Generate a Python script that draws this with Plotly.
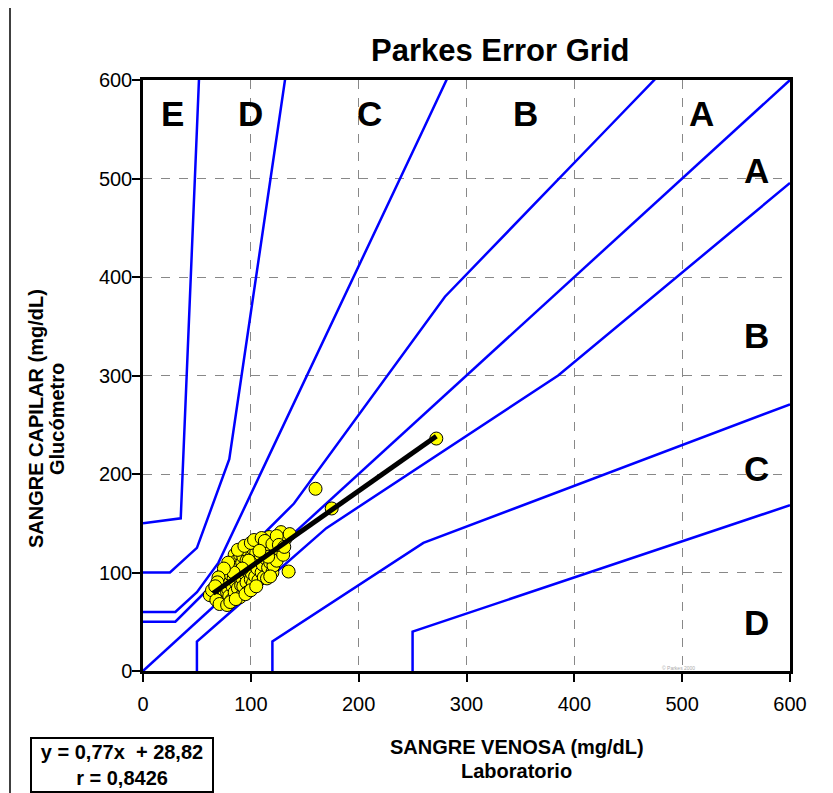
import plotly.graph_objects as go

# Parkes error grid boundaries (Type 1), extended along their last segment past the axis range
a_upper_x = [0, 30, 140, 280, 430, 480]
a_upper_y = [50, 50, 170, 380, 550, 606.7]
a_lower_x = [50, 50, 170, 385, 550, 600]
a_lower_y = [0, 30, 145, 300, 450, 495.5]
b_upper_x = [0, 30, 50, 70, 260, 290]
b_upper_y = [60, 60, 80, 110, 550, 620]
b_lower_x = [120, 120, 260, 550, 600]
b_lower_y = [0, 30, 130, 250, 270.7]
c_upper_x = [0, 25, 50, 80, 125, 135]
c_upper_y = [100, 100, 125, 215, 550, 625]
c_lower_x = [250, 250, 550, 600]
c_lower_y = [0, 40, 150, 168.3]
d_upper_x = [0, 35, 50, 52]
d_upper_y = [150, 155, 550, 603]
identity_x = [0, 600]
identity_y = [0, 600]

# Measurements: laboratory (venous) vs glucometer (capillary)
lab = [65, 66, 68, 70, 70, 72, 72, 73, 73, 74, 75, 75, 76, 76, 77, 78, 78, 79, 80, 80,
       80, 81, 82, 82, 83, 83, 84, 85, 85, 86, 86, 87, 88, 88, 89, 90, 90, 90, 91, 92,
       92, 93, 93, 94, 95, 95, 96, 96, 97, 98, 98, 99, 100, 100, 101, 102, 102, 103, 104, 104,
       105, 106, 107, 107, 108, 109, 110, 110, 111, 112, 113, 114, 115, 115, 116, 117, 118, 119, 120, 121,
       122, 124, 125, 127, 128, 130, 132, 135, 136, 118,
       62, 64, 68, 71, 78, 81, 86, 95, 100, 105, 88, 94, 100, 103, 110, 113, 120, 124, 126, 131,
       116, 108, 98, 92, 84, 79, 75, 70, 69, 67,
       160, 175, 272]
gluc = [76, 80, 78, 84, 74, 88, 80, 97, 86, 76, 92, 82, 100, 72, 88, 95, 80, 83, 104, 90,
        76, 98, 72, 104, 110, 86, 94, 118, 80, 102, 90, 112, 96, 84, 106, 75, 118, 100, 87, 110,
        94, 116, 86, 104, 122, 98, 90, 112, 80, 121, 106, 99, 115, 93, 99, 89, 124, 108, 114, 96,
        120, 104, 129, 92, 112, 118, 100, 126, 108, 95, 128, 114, 94, 120, 105, 136, 110, 124, 100, 107,
        117, 112, 130, 123, 141, 118, 134, 101, 139, 96,
        77, 82, 72, 68, 67, 70, 73, 78, 82, 86, 123, 127, 130, 133, 135, 132, 129, 137, 128, 126,
        116, 122, 112, 104, 100, 110, 104, 95, 90, 86,
        185, 165, 236]

# Regression y = 0.77x + 28.82
reg_slope = 0.77
reg_intercept = 28.82
reg_x = [65, 272]
reg_y = [reg_slope * v + reg_intercept for v in reg_x]

x_ticks = [0, 100, 200, 300, 400, 500, 600]
y_ticks = [0, 100, 200, 300, 400, 500, 600]

zone_labels = ["E", "D", "C", "B", "A", "A", "B", "C", "D"]
zone_x = [27, 100, 210, 355, 518, 569, 569, 569, 569]
zone_y = [566, 566, 566, 566, 566, 508, 341, 206, 49]

BLUE = "#0000FF"
FONT = "Liberation Sans, Arial, sans-serif"
OFF = 8  # page body margin

fig = go.Figure()
for xs, ys in [(d_upper_x, d_upper_y), (c_upper_x, c_upper_y), (b_upper_x, b_upper_y),
               (a_upper_x, a_upper_y), (identity_x, identity_y), (a_lower_x, a_lower_y),
               (b_lower_x, b_lower_y), (c_lower_x, c_lower_y)]:
    fig.add_trace(go.Scatter(x=xs, y=ys, mode="lines", line=dict(color=BLUE, width=2.5),
                             hoverinfo="skip", showlegend=False))

fig.add_trace(go.Scatter(x=lab, y=gluc, mode="markers",
                         marker=dict(size=13, color="#FFFF00", line=dict(color="#000000", width=1)),
                         showlegend=False, cliponaxis=False))
fig.add_trace(go.Scatter(x=reg_x, y=reg_y, mode="lines", line=dict(color="#000000", width=5),
                         showlegend=False))

for t, zx, zy in zip(zone_labels, zone_x, zone_y):
    fig.add_annotation(x=zx, y=zy, text="<b>%s</b>" % t, showarrow=False,
                       xanchor="center", yanchor="middle",
                       font=dict(size=35, color="#000000", family=FONT))

def px_to_paper_x(px):
    return (px - 143) / 647.0

def px_to_paper_y(py):
    return (671 - py) / 591.0

def label(text, px, py, size, angle=0):
    fig.add_annotation(xref="paper", yref="paper", x=px_to_paper_x(px), y=px_to_paper_y(py),
                       xanchor="center", yanchor="middle", text=text, showarrow=False,
                       textangle=angle, font=dict(size=size, color="#000000", family=FONT))

label("<b>Parkes Error Grid</b>", 500, 50, 31)
label("<b>SANGRE VENOSA (mg/dL)</b>", 517, 747, 20)
label("<b>Laboratorio</b>", 517, 771, 20)
label("<b>SANGRE CAPILAR (mg/dL)</b>", 36, 419, 20, -90)
label("<b>Glucómetro</b>", 57, 419, 20, -90)

# Regression box
fig.add_annotation(xref="paper", yref="paper", x=px_to_paper_x(122), y=px_to_paper_y(737),
                   xanchor="center", yanchor="top",
                   text="<b>y = 0,77x&nbsp; + 28,82</b><br><b>r = 0,8426</b>", showarrow=False,
                   align="center", bordercolor="#000000", borderwidth=2, borderpad=2,
                   bgcolor="#FFFFFF", width=176,
                   font=dict(size=20, color="#000000", family=FONT))
# Watermark
fig.add_annotation(x=497, y=3, text="© Parkes 2000", showarrow=False,
                   xanchor="center", yanchor="middle",
                   font=dict(size=5, color="#AAAAAA", family=FONT))
# Page border line on the left
fig.add_shape(type="line", xref="paper", yref="paper",
              x0=px_to_paper_x(10), x1=px_to_paper_x(10), y0=px_to_paper_y(0), y1=px_to_paper_y(800),
              line=dict(color="#000000", width=1.5))

axis_common = dict(range=[0, 600], showgrid=True, gridcolor="#888888", griddash="dash",
                   gridwidth=1, showline=True, linecolor="#000000", linewidth=2.5, mirror=True,
                   ticks="outside", ticklen=8, tickcolor="#000000", tickwidth=1.5,
                   zeroline=False, tickfont=dict(size=20, color="#000000", family=FONT))
fig.update_xaxes(tickvals=x_ticks, ticktext=[str(v) for v in x_ticks], ticklabelstandoff=5,
                 **axis_common)
fig.update_yaxes(tickvals=y_ticks, ticktext=[str(v) for v in y_ticks], ticklabelstandoff=-4,
                 **axis_common)

fig.update_layout(width=833 - OFF, height=793 - OFF,
                  margin=dict(l=143 - OFF, r=833 - 790, t=80 - OFF, b=793 - 671),
                  plot_bgcolor="#FFFFFF", paper_bgcolor="#FFFFFF", showlegend=False,
                  font=dict(family=FONT))

fig.write_html("out.html")
